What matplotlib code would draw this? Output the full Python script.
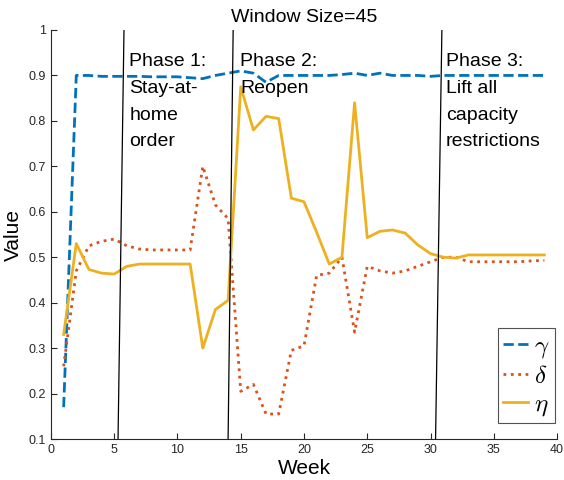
import numpy as np
import matplotlib.pyplot as plt

plt.rcParams['font.family'] = ['Liberation Sans', 'DejaVu Sans']
plt.rcParams['mathtext.fontset'] = 'cm'

weeks = np.arange(1, 40)
gamma = [0.17, 0.90, 0.90, 0.898, 0.898, 0.898, 0.898, 0.897, 0.897, 0.897,
         0.895, 0.893, 0.90, 0.905, 0.91, 0.905, 0.885, 0.90, 0.90, 0.90,
         0.90, 0.90, 0.902, 0.905, 0.90, 0.905, 0.90, 0.90, 0.90, 0.898,
         0.90, 0.90, 0.90, 0.90, 0.90, 0.90, 0.90, 0.90, 0.90]
delta = [0.26, 0.47, 0.525, 0.535, 0.54, 0.525, 0.518, 0.516, 0.516, 0.516,
         0.516, 0.70, 0.615, 0.585, 0.205, 0.22, 0.155, 0.155, 0.295, 0.305,
         0.46, 0.465, 0.50, 0.335, 0.48, 0.47, 0.465, 0.47, 0.48, 0.49,
         0.50, 0.50, 0.49, 0.49, 0.49, 0.49, 0.49, 0.492, 0.493]
eta = [0.33, 0.53, 0.473, 0.465, 0.463, 0.48, 0.485, 0.485, 0.485, 0.485,
       0.485, 0.30, 0.385, 0.405, 0.875, 0.78, 0.81, 0.805, 0.63, 0.622,
       0.555, 0.485, 0.50, 0.84, 0.543, 0.557, 0.56, 0.553, 0.527, 0.508,
       0.50, 0.498, 0.505, 0.505, 0.505, 0.505, 0.505, 0.505, 0.505]

# phase boundaries (bottom x, top x), slightly slanted as in the original
phase_lines = [(5.3, 5.77), (14.0, 14.4), (30.4, 30.9)]
phase_text = ['Phase 1:\nStay-at-\nhome\norder', 'Phase 2:\nReopen',
              'Phase 3:\nLift all\ncapacity\nrestrictions']
phase_text_x = [6.2, 14.95, 31.2]

fig = plt.figure(figsize=(5.64, 4.8), dpi=100)
ax = fig.add_axes([0.0904, 0.0854, 0.8972, 0.8521])

ax.plot(weeks, gamma, '--', color='#0072BD', lw=2, label=r'$\gamma$')
ax.plot(weeks, delta, ':', color='#D95319', lw=2, label=r'$\delta$')
ax.plot(weeks, eta, '-', color='#EDB120', lw=2, label=r'$\eta$')

for (xb, xt) in phase_lines:
    ax.plot([xb, xt], [0.1, 1.0], color='black', lw=0.9)
for t, x in zip(phase_text, phase_text_x):
    ax.text(x, 0.949, t, fontsize=14, va='top', ha='left', linespacing=1.75)

ax.set_xlim(0, 40)
ax.set_ylim(0.1, 1)
ax.set_xticks(np.arange(0, 41, 5))
ax.set_yticks(np.arange(0.1, 1.01, 0.1))
ax.set_yticklabels(['0.1', '0.2', '0.3', '0.4', '0.5', '0.6', '0.7', '0.8', '0.9', '1'])
ax.tick_params(direction='in', labelsize=9, colors='#262626', length=4)
for s in ['top', 'right']:
    ax.spines[s].set_visible(False)
for s in ['left', 'bottom']:
    ax.spines[s].set_color('#262626')

ax.set_xlabel('Week', fontsize=15, labelpad=2)
ax.set_ylabel('Value', fontsize=15, labelpad=4)
fig.text(304 / 564, 1 - 22 / 480, 'Window Size=45', fontsize=14, ha='center', va='baseline')

leg = ax.legend(loc='lower right', fontsize=18, frameon=True, fancybox=False,
                edgecolor='#262626', handlelength=1.0, borderpad=0.2,
                labelspacing=0.15, handletextpad=0.25, borderaxespad=0.0,
                bbox_to_anchor=(0.996, 0.04))
leg.get_frame().set_linewidth(0.8)

fig.savefig('out.png', dpi=100)
